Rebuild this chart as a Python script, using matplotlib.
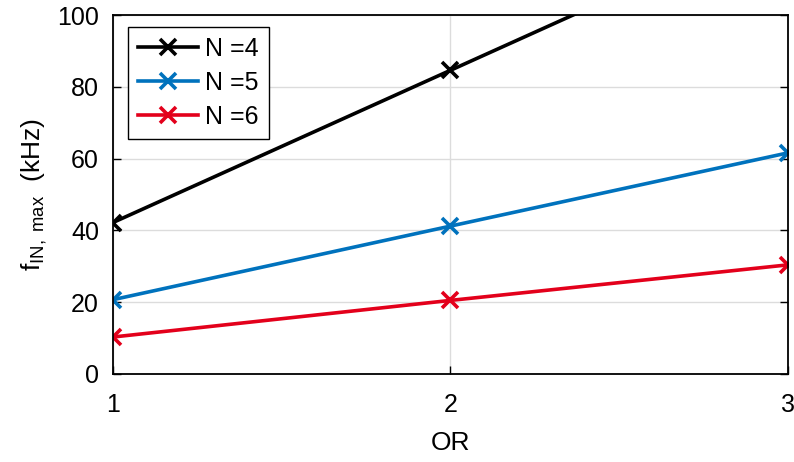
import matplotlib
matplotlib.use('Agg')
import matplotlib.pyplot as plt

plt.rcParams['font.family'] = ['Liberation Sans', 'DejaVu Sans']
plt.rcParams['mathtext.fontset'] = 'custom'
plt.rcParams['mathtext.rm'] = 'Liberation Sans'
plt.rcParams['mathtext.it'] = 'Liberation Sans'
plt.rcParams['mathtext.default'] = 'regular'

# oversampling ratio and max input frequency (kHz) per filter order
OR = [1, 2, 3]
f_n4 = [42.2, 84.6, 127.0]
f_n5 = [20.7, 41.2, 61.6]
f_n6 = [10.3, 20.5, 30.4]

series = [
    ('N =4', f_n4, 'black'),
    ('N =5', f_n5, '#0072bd'),
    ('N =6', f_n6, '#e3001b'),
]

fig = plt.figure(figsize=(7.94, 4.62), dpi=100)
ax = fig.add_axes([0.1423, 0.1905, 0.8501, 0.7770])

for label, vals, color in series:
    ax.plot(OR, vals, '-x', color=color, linewidth=2.6, markersize=11,
            markeredgewidth=2.6, label=label)

ax.set_xlim(1, 3)
ax.set_ylim(0, 100)
ax.set_xticks(OR)
ax.set_yticks(range(0, 101, 20))
ax.grid(True, color='#dcdcdc', linewidth=1)
ax.tick_params(axis='both', direction='in', length=6, width=1, labelsize=18,
               right=True)
ax.tick_params(axis='x', pad=14)
ax.tick_params(axis='y', pad=10)
for s in ax.spines.values():
    s.set_linewidth(1.3)

ax.set_xlabel('OR', fontsize=19, labelpad=10)
ax.set_ylabel(r'f$_{IN,\ max}$  (kHz)', fontsize=19, labelpad=6)

leg = ax.legend(loc='upper left', fontsize=18, fancybox=False, framealpha=1,
                edgecolor='black', handlelength=2.4, borderpad=0.4,
                labelspacing=0.4, handletextpad=0.3, borderaxespad=0,
                bbox_to_anchor=(0.022, 0.967))
leg.get_frame().set_linewidth(1)

fig.savefig('out.png', dpi=100)
